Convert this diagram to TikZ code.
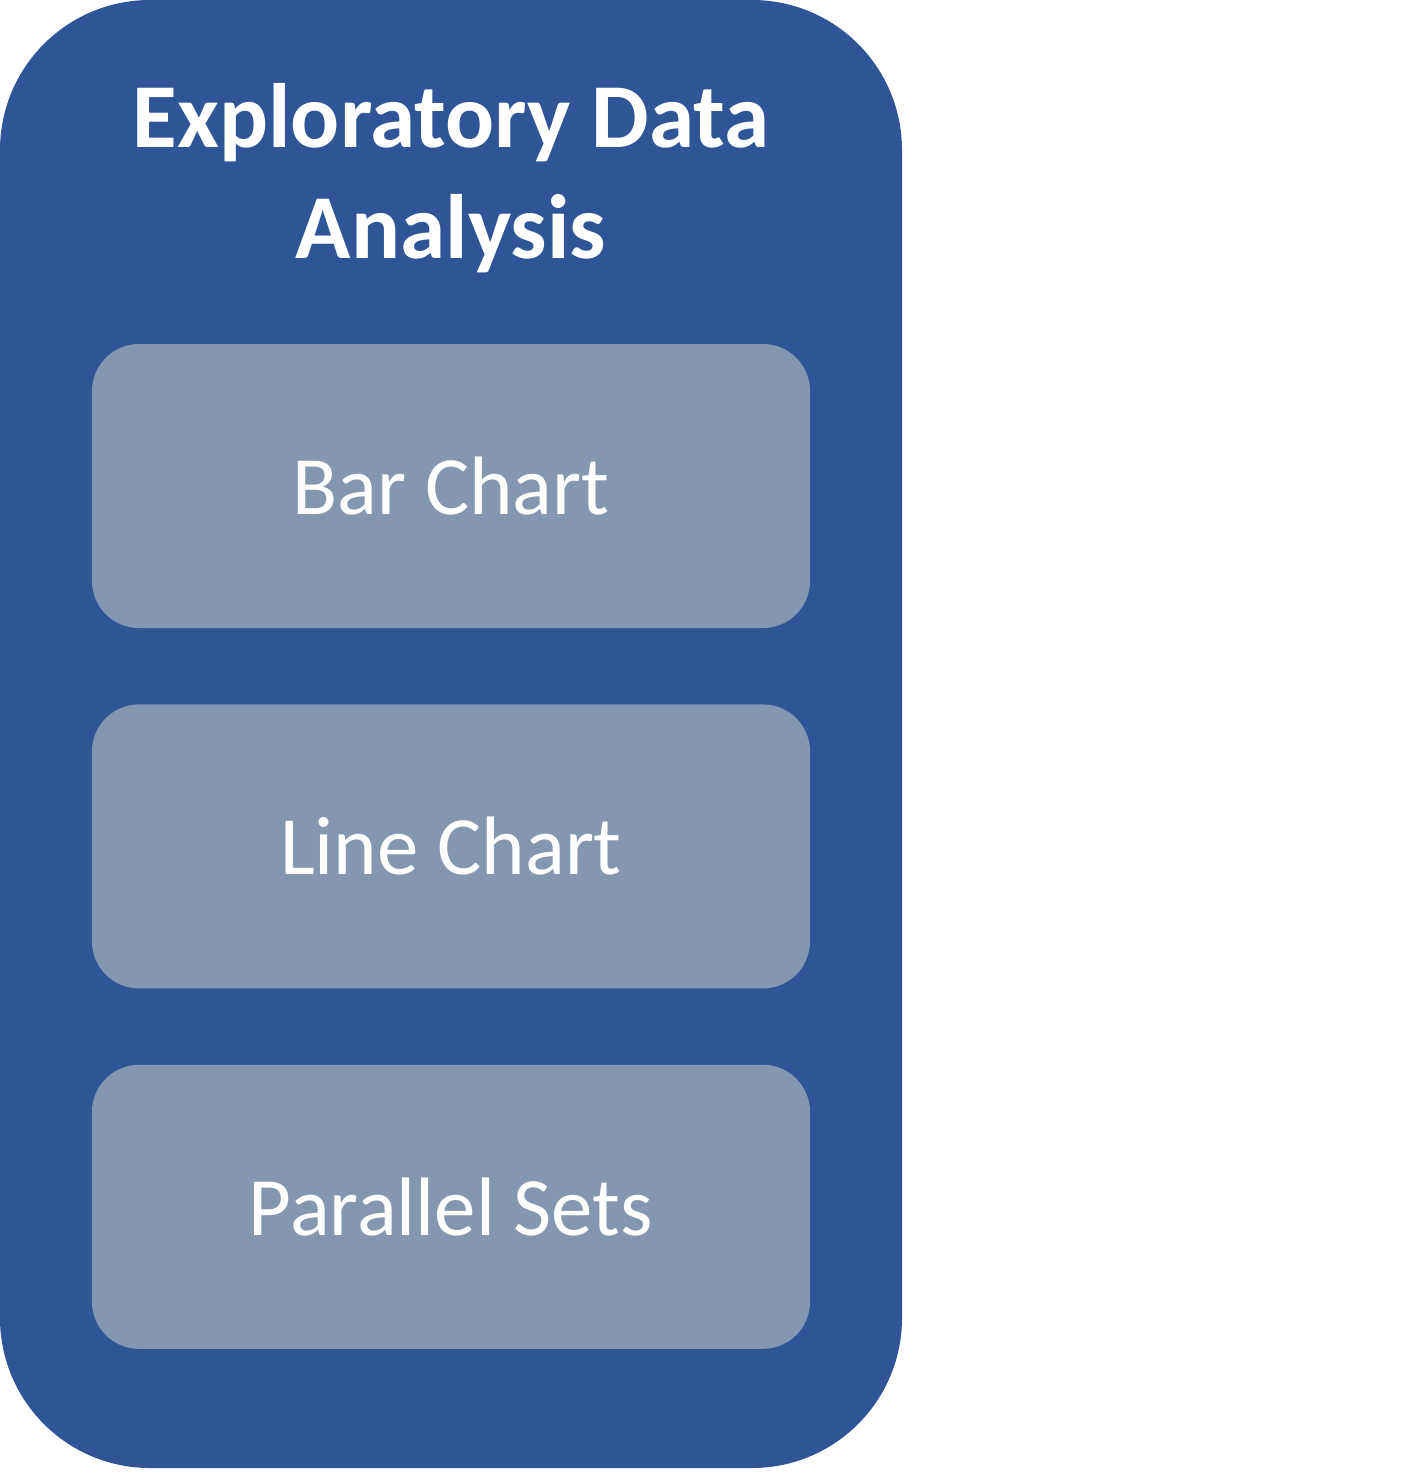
\documentclass[tikz,border=0pt]{standalone}
\usepackage{fontspec}
\setmainfont{Carlito}
\usepackage{tikz}
\usetikzlibrary{positioning, backgrounds}
\usepackage{xcolor}
\definecolor{edacolor}{RGB}{47,85,151}
\definecolor{chartcolor}{RGB}{132,151,176}

\begin{document}
\begin{tikzpicture}[
    node distance=0.75cm,
    chartbox/.style={rectangle, fill=chartcolor, rounded corners=0.47cm, minimum width=7.18cm, minimum height=2.84cm, align=center, text=white, font=\fontsize{23.6}{28.4}\selectfont},
    titlelabel/.style={align=center, text=white, font=\bfseries\fontsize{26}{31.3}\selectfont}
]
\useasboundingbox (0,0) rectangle (14.18,-14.84);

\node[chartbox] (bar) at (4.51,-4.86) {Bar Chart};
\node[chartbox, below=of bar] (line) {Line Chart};
\node[chartbox, below=of line] (parsets) {Parallel Sets};

\node[titlelabel, anchor=base] (edalabel) at (4.51,-2.58) {Exploratory Data\\Analysis};

\begin{scope}[on background layer]
\fill[edacolor, rounded corners=1.5cm] (0,0) rectangle (9.02,-14.68);
\end{scope}

\end{tikzpicture}
\end{document}
